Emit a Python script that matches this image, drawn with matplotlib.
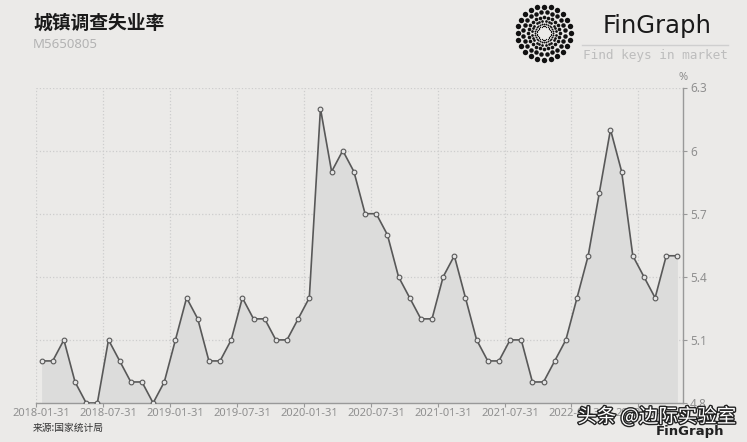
import numpy as np
import matplotlib
matplotlib.use("Agg")
import matplotlib.pyplot as plt
import matplotlib.patheffects as pe

plt.rcParams['font.family'] = ['Noto Sans CJK SC', 'DejaVu Sans']

# ---- data ----
values_2018 = [5.0, 5.0, 5.1, 4.9, 4.8, 4.8, 5.1, 5.0, 4.9, 4.9, 4.8, 4.9]
values_2019 = [5.1, 5.3, 5.2, 5.0, 5.0, 5.1, 5.3, 5.2, 5.2, 5.1, 5.1, 5.2]
values_2020 = [5.3, 6.2, 5.9, 6.0, 5.9, 5.7, 5.7, 5.6, 5.4, 5.3, 5.2, 5.2]
values_2021 = [5.4, 5.5, 5.3, 5.1, 5.0, 5.0, 5.1, 5.1, 4.9, 4.9, 5.0, 5.1]
values_2022 = [5.3, 5.5, 5.8, 6.1, 5.9, 5.5, 5.4, 5.3, 5.5, 5.5]
values = values_2018 + values_2019 + values_2020 + values_2021 + values_2022
x_tick_labels = ["2018-01-31", "2018-07-31", "2019-01-31", "2019-07-31", "2020-01-31",
                 "2020-07-31", "2021-01-31", "2021-07-31", "2022-01-31", "2022-07-31"]
y_ticks = [4.8, 5.1, 5.4, 5.7, 6.0, 6.3]
y_tick_labels = ["4.8", "5.1", "5.4", "5.7", "6", "6.3"]
title = "城镇调查失业率"
code = "M5650805"
source = "来源:国家统计局"

W, H = 747, 442
BG = "#ebeae8"
fig = plt.figure(figsize=(W / 100, H / 100), dpi=100, facecolor=BG)

# ---- main axes ----
L, R, T, B = 36, 683, 87.5, 403
ax = fig.add_axes([L / W, 1 - B / H, (R - L) / W, (B - T) / H], facecolor=BG)
x = np.arange(len(values))
ax.fill_between(x, values, 4.8, color="#dcdcdb", lw=0, zorder=1)
ax.plot(x, values, color="#585858", lw=1.2, marker="o", ms=3.4,
        mfc="#e6e6e6", mec="#585858", mew=0.8, zorder=3)
ax.set_xlim(-0.5, 57.5)
ax.set_ylim(4.8, 6.3)

major = [i * 6 - 0.5 for i in range(len(x_tick_labels))]
minor = [i * 6 for i in range(len(x_tick_labels))]
ax.set_xticks(major)
ax.set_xticklabels([])
ax.set_xticks(minor, minor=True)
ax.set_xticklabels(x_tick_labels, minor=True)
ax.tick_params(axis="x", which="major", length=3, color="#999999", direction="out")
ax.tick_params(axis="x", which="minor", length=0, pad=3.5, labelsize=8,
               labelcolor="#8f8f8f")
for lab in ax.get_xticklabels(minor=True):
    lab.set_family(["Noto Sans", "DejaVu Sans"])

ax.yaxis.tick_right()
ax.set_yticks(y_ticks)
ax.set_yticklabels(y_tick_labels)
ax.tick_params(axis="y", length=3, color="#999999", pad=2, labelsize=8.5,
               labelcolor="#8f8f8f")
for lab in ax.get_yticklabels():
    lab.set_family(["Noto Sans", "DejaVu Sans"])

ax.grid(True, which="major", color="#cdcdcd", ls=":", lw=0.9)
ax.set_axisbelow(True)
for s in ["left", "top"]:
    ax.spines[s].set_visible(False)
for s in ["bottom", "right"]:
    ax.spines[s].set_color("#999999")
    ax.spines[s].set_linewidth(1.0)

# ---- texts ----
fig.text(33 / W, 1 - 23 / H, title, fontsize=13.5, fontweight="bold", color="#1a1a1a",
         va="center", ha="left")
fig.text(33 / W, 1 - 45 / H, code, fontsize=9.5, color="#b3b3b3", va="center", ha="left",
         family=["Noto Sans", "DejaVu Sans"])
fig.text(683 / W, 1 - 78 / H, "%", fontsize=8, color="#8f8f8f", va="center", ha="center",
         family=["Noto Sans", "DejaVu Sans"])
fig.text(33 / W, 1 - 428 / H, source, fontsize=7, color="#333333", va="center", ha="left")

# ---- logo ----
lg = fig.add_axes([0, 0, 1, 1], zorder=5)
lg.set_xlim(0, W)
lg.set_ylim(H, 0)
lg.axis("off")
cx, cy = 544, 33
rings = [(26.5, 24, 5.4), (21, 24, 4.5), (16, 24, 3.6), (12, 24, 2.7), (9, 28, 1.9), (6.8, 34, 1.3)]
for k, (r, n, d) in enumerate(rings):
    ang = np.linspace(0, 2 * np.pi, n, endpoint=False) + (np.pi / n if k % 2 else 0)
    lg.scatter(cx + r * np.cos(ang), cy + r * np.sin(ang), s=(d * 0.72) ** 2,
               color="#111111", lw=0)
lg.text(657, 26, "FinGraph", fontsize=17.5, color="#1a1a1a", ha="center", va="center",
        family=["Liberation Sans Narrow", "DejaVu Sans"])
lg.plot([582, 728], [45, 45], color="#cfcfcf", lw=1)
lg.text(655, 55, "Find keys in market", fontsize=9.2, color="#bdbdbd", ha="center",
        va="center", family=["DejaVu Sans Mono"])

# ---- watermark ----
lg.text(690, 431, "FinGraph", fontsize=9.5, fontweight="bold", color="#222222",
        ha="center", va="center", family=["DejaVu Sans"])
lg.text(657, 417, "头条 @边际实验室", fontsize=14, color="white", ha="center", va="center",
        path_effects=[pe.withStroke(linewidth=2, foreground="#222222")])

fig.savefig("out.png", dpi=100, facecolor=BG)
